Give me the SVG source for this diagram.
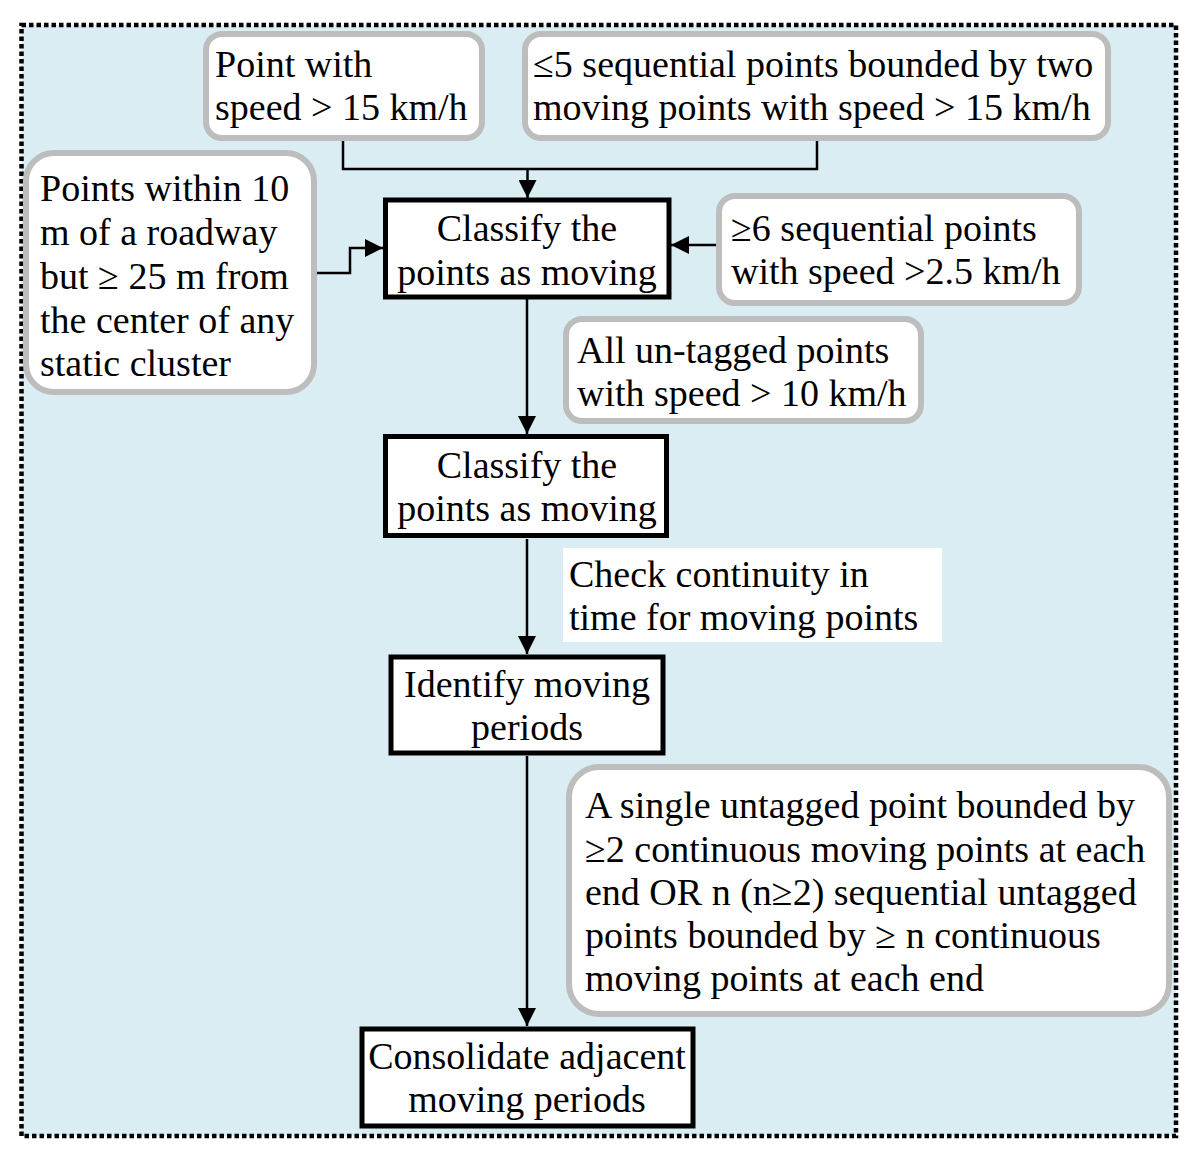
<svg xmlns="http://www.w3.org/2000/svg" width="1200" height="1159" viewBox="0 0 1200 1159">
<defs>
<style>
text{font-family:"Liberation Serif","Times New Roman",serif;font-size:38px;fill:#000}
.c{text-anchor:middle}
.cond{fill:#fff;stroke:#bdbdbd;stroke-width:6}
.step{fill:#fff;stroke:#000;stroke-width:5}
.ln{fill:none;stroke:#000;stroke-width:2.5}
</style>
<marker id="ah" viewBox="0 0 10 10" refX="10" refY="5" markerWidth="18" markerHeight="18" markerUnits="userSpaceOnUse" orient="auto">
<path d="M0,0 L10,5 L0,10 Z" fill="#000"/>
</marker>
</defs>
<rect x="0" y="0" width="1200" height="1159" fill="#fff"/>
<rect id="frame" x="21.5" y="25" width="1154.5" height="1111" fill="#daedf3" stroke="#000" stroke-width="4.5" stroke-dasharray="4.5 3"/>

<g id="connectors">
<path class="ln" d="M343,140 V169 H817 V140"/>
<path class="ln" d="M527.5,169 V198" marker-end="url(#ah)"/>
<path class="ln" d="M317,273 H350 V248 H383" marker-end="url(#ah)"/>
<path class="ln" d="M716,245 H671" marker-end="url(#ah)"/>
<path class="ln" d="M527,299 V434" marker-end="url(#ah)"/>
<path class="ln" d="M527,539 V654" marker-end="url(#ah)"/>
<path class="ln" d="M527,756 V1026" marker-end="url(#ah)"/>
</g>

<g id="n-speed15">
<rect class="cond" x="206" y="34" width="276" height="104" rx="16"/>
<text x="215" y="77">Point with</text>
<text x="215" y="120">speed &gt; 15 km/h</text>
</g>
<g id="n-le5">
<rect class="cond" x="525" y="34" width="583" height="104" rx="16"/>
<text x="533" y="77">≤5 sequential points bounded by two</text>
<text x="533" y="120">moving points with speed &gt; 15 km/h</text>
</g>
<g id="n-roadway">
<rect class="cond" x="26" y="153" width="288" height="239" rx="28"/>
<text x="40" y="201">Points within 10</text>
<text x="40" y="245">m of a roadway</text>
<text x="40" y="289">but ≥ 25 m from</text>
<text x="40" y="333">the center of any</text>
<text x="40" y="376">static cluster</text>
</g>
<g id="n-classify1">
<rect class="step" x="385.5" y="200" width="283.5" height="97"/>
<text class="c" x="527" y="241">Classify the</text>
<text class="c" x="527" y="285">points as moving</text>
</g>
<g id="n-ge6">
<rect class="cond" x="719" y="196" width="360" height="107" rx="16"/>
<text x="731" y="241">≥6 sequential points</text>
<text x="731" y="284">with speed &gt;2.5 km/h</text>
</g>
<g id="n-untagged10">
<rect class="cond" x="566" y="319" width="355" height="102" rx="16"/>
<text x="577" y="363">All un-tagged points</text>
<text x="577" y="406">with speed &gt; 10 km/h</text>
</g>
<g id="n-classify2">
<rect class="step" x="385.5" y="436.5" width="281" height="99"/>
<text class="c" x="527" y="478">Classify the</text>
<text class="c" x="527" y="521">points as moving</text>
</g>
<g id="n-continuity">
<rect x="563" y="548" width="379" height="94" fill="#fff"/>
<text x="569" y="587">Check continuity in</text>
<text x="569" y="630">time for moving points</text>
</g>
<g id="n-identify">
<rect class="step" x="391" y="657" width="272" height="96"/>
<text class="c" x="527" y="697">Identify moving</text>
<text class="c" x="527" y="740">periods</text>
</g>
<g id="n-single">
<rect class="cond" x="569" y="767" width="600" height="247" rx="30"/>
<text x="585" y="818">A single untagged point bounded by</text>
<text x="585" y="862">≥2 continuous moving points at each</text>
<text x="585" y="905">end OR n (n≥2) sequential untagged</text>
<text x="585" y="948">points bounded by ≥ n continuous</text>
<text x="585" y="991">moving points at each end</text>
</g>
<g id="n-consolidate">
<rect class="step" x="362" y="1029" width="331" height="97"/>
<text class="c" x="527" y="1069">Consolidate adjacent</text>
<text class="c" x="527" y="1112">moving periods</text>
</g>
</svg>
